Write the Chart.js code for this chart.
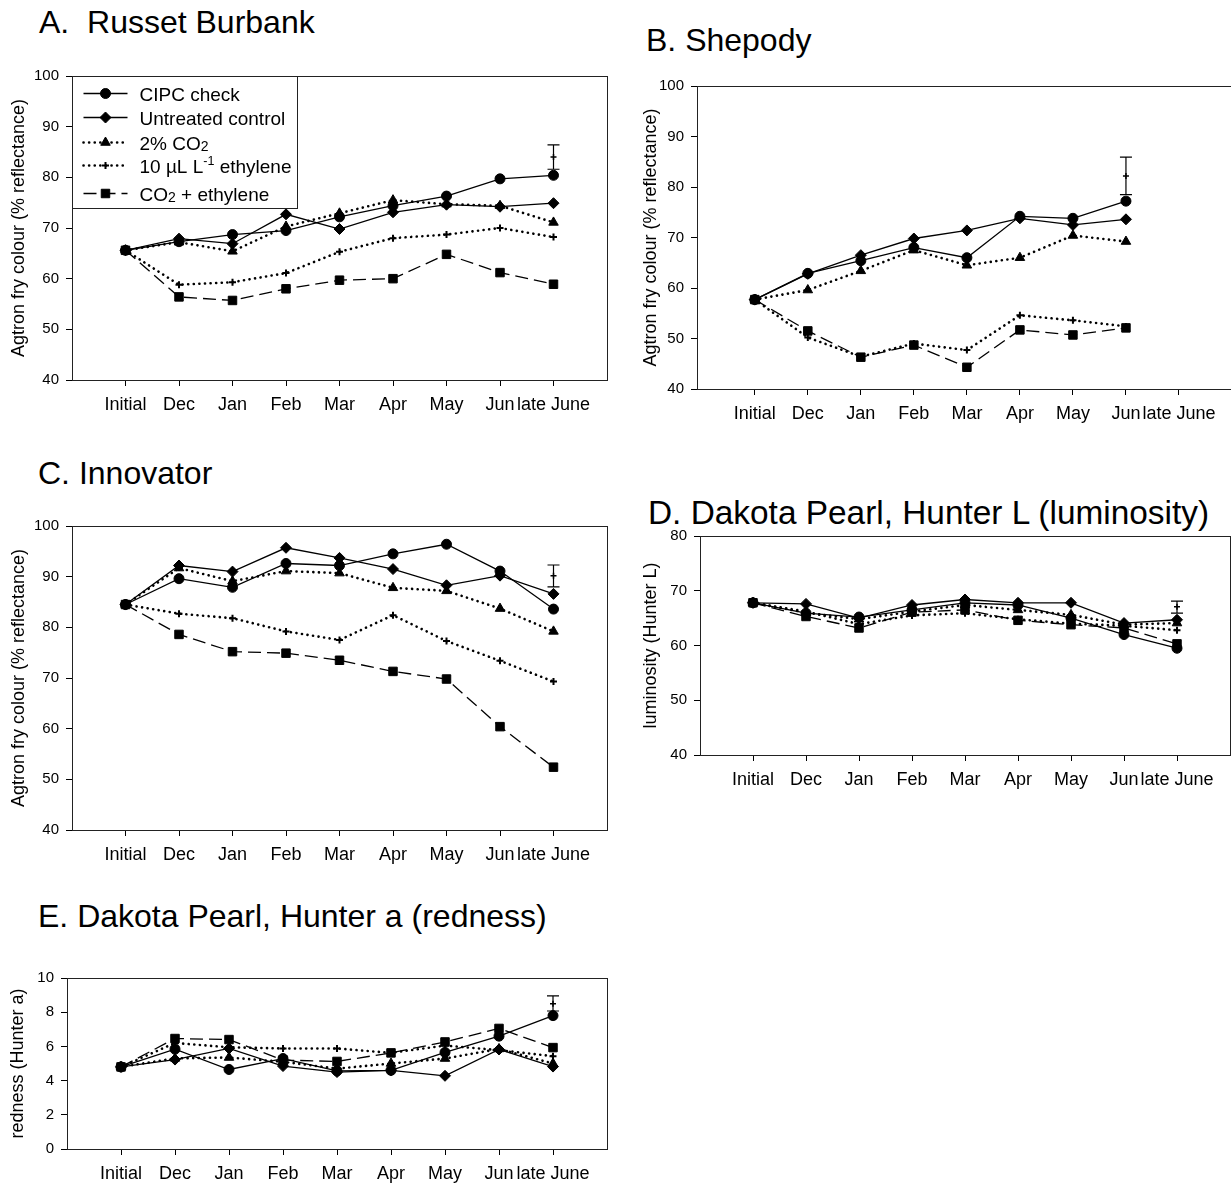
<!DOCTYPE html>
<html>
<head>
<meta charset="utf-8">
<script src="https://cdn.jsdelivr.net/npm/chart.js@4.4.1/dist/chart.umd.min.js"></script>
<style>
  html, body { margin: 0; padding: 0; background: #fff; overflow: hidden; }
  body { width: 1231px; height: 1187px; position: relative; font-family: "Liberation Sans", Arial, sans-serif; }
  .panel-title { position: absolute; font-size: 32px; line-height: 32px; color: #000; white-space: nowrap; }
  canvas { position: absolute; }
</style>
</head>
<body>
<div class="panel-title" style="left:39px; top:6px">A.&nbsp; Russet Burbank</div>
<div class="panel-title" style="left:646px; top:24px">B. Shepody</div>
<div class="panel-title" style="left:38px; top:457px">C. Innovator</div>
<div class="panel-title" style="left:648px; top:497px; font-size:33.4px">D. Dakota Pearl, Hunter L (luminosity)</div>
<div class="panel-title" style="left:38px; top:900px">E. Dakota Pearl, Hunter a (redness)</div>

<canvas id="chartA" width="620" height="370" style="left:0; top:60px"></canvas>
<canvas id="chartB" width="620" height="370" style="left:630px; top:70px"></canvas>
<canvas id="chartC" width="620" height="370" style="left:0; top:510px"></canvas>
<canvas id="chartD" width="620" height="290" style="left:630px; top:520px"></canvas>
<canvas id="chartE" width="620" height="227" style="left:0; top:960px"></canvas>

<script>
const months = ["Initial", "Dec", "Jan", "Feb", "Mar", "Apr", "May", "Jun", "late June"];
const treatments = ["CIPC check", "Untreated control", "2% CO2", "10 µL L-1 ethylene", "CO2 + ethylene"];

// A. Russet Burbank
const aCipc      = [65.6, 67.3, 68.7, 69.5, 72.2, 74.4, 76.3, 79.7, 80.4];
const aUntreated = [65.6, 67.9, 66.9, 72.7, 69.8, 73.1, 74.6, 74.2, 74.9];
const aCo2       = [65.6, 67.2, 65.4, 70.3, 72.9, 75.5, 74.7, 74.4, 71.1];
const aEthylene  = [65.6, 58.8, 59.3, 61.1, 65.3, 68.0, 68.7, 70.0, 68.2];
const aCo2Eth    = [65.6, 56.4, 55.7, 58.0, 59.7, 60.0, 64.8, 61.2, 58.9];
const aError = { month: "late June", mid: 84.0, low: 81.6, high: 86.4 };

// B. Shepody (no late June sample)
const bCipc      = [57.7, 62.9, 65.4, 68.0, 66.0, 74.2, 73.8, 77.2, null];
const bUntreated = [57.7, 62.8, 66.5, 69.8, 71.4, 73.8, 72.5, 73.6, null];
const bCo2       = [57.7, 59.6, 63.4, 67.5, 64.5, 66.0, 70.4, 69.2, null];
const bEthylene  = [57.7, 50.2, 46.4, 49.0, 47.7, 54.6, 53.6, 52.4, null];
const bCo2Eth    = [57.7, 51.5, 46.3, 48.7, 44.3, 51.7, 50.7, 52.1, null];
const bError = { month: "Jun", mid: 82.2, low: 78.5, high: 85.9 };

// C. Innovator
const cCipc      = [84.5, 89.6, 87.9, 92.6, 92.2, 94.5, 96.4, 91.1, 83.6];
const cUntreated = [84.5, 92.2, 91.0, 95.7, 93.7, 91.5, 88.3, 90.2, 86.6];
const cCo2       = [84.5, 91.7, 89.1, 91.1, 90.7, 87.8, 87.2, 83.7, 79.2];
const cEthylene  = [84.5, 82.7, 81.8, 79.2, 77.5, 82.4, 77.3, 73.4, 69.3];
const cCo2Eth    = [84.5, 78.6, 75.2, 74.9, 73.5, 71.3, 69.8, 60.4, 52.4];
const cError = { month: "late June", mid: 90.2, low: 88.0, high: 92.3 };

// D. Dakota Pearl, Hunter L
const dCipc      = [67.8, 65.9, 65.2, 66.5, 67.8, 67.4, 65.0, 62.0, 59.5];
const dUntreated = [67.8, 67.6, 65.0, 67.4, 68.4, 67.8, 67.8, 64.1, 64.7];
const dCo2       = [67.8, 66.0, 64.8, 66.2, 67.4, 66.5, 65.6, 63.8, 64.1];
const dEthylene  = [67.8, 66.2, 63.9, 65.5, 65.9, 64.8, 64.0, 63.6, 62.8];
const dCo2Eth    = [67.8, 65.3, 63.2, 66.1, 66.5, 64.6, 63.8, 63.2, 60.3];
const dError = { month: "late June", mid: 67.1, low: 65.9, high: 68.1 };

// E. Dakota Pearl, Hunter a
const eCipc      = [4.8, 5.84, 4.65, 5.29, 4.57, 4.6, 5.65, 6.6, 7.8];
const eUntreated = [4.8, 5.23, 5.88, 4.85, 4.5, 4.6, 4.28, 5.82, 4.82];
const eCo2       = [4.8, 5.3, 5.35, 5.1, 4.7, 5.0, 5.29, 5.85, 5.0];
const eEthylene  = [4.8, 6.2, 5.95, 5.88, 5.88, 5.62, 6.05, 5.78, 5.43];
const eCo2Eth    = [4.8, 6.46, 6.4, 5.2, 5.12, 5.62, 6.26, 7.05, 5.93];
const eError = { month: "late June", mid: 8.5, low: 8.07, high: 8.95 };

const family = '"Liberation Sans", Arial, sans-serif';
Chart.defaults.font.family = family;
Chart.defaults.color = "#000";

// marker + line look for each treatment
const looks = [
  { pointStyle: "circle",   radius: 5,   dash: [],          lineWidth: 1.3 },
  { pointStyle: "rectRot",  radius: 5.5, dash: [],          lineWidth: 1.3 },
  { pointStyle: "triangle", radius: 5.5, dash: [0.1, 5.5],  lineWidth: 2.6 },
  { pointStyle: "cross",    radius: 3.5, dash: [0.1, 5.5],  lineWidth: 2.6 },
  { pointStyle: "rect",     radius: 6,   dash: [13, 6],     lineWidth: 1.3 },
];

const legendLabels = [
  [["CIPC check"]],
  [["Untreated control"]],
  [["2% CO"], ["2", "sub"]],
  [["10 µL L"], ["-1", "sup"], [" ethylene"]],
  [["CO"], ["2", "sub"], [" + ethylene"]],
];
const legendRows = [17, 41, 66, 89, 117];

const drawMarker = (ctx, look, x, y) => {
  const r = look.radius;
  ctx.beginPath();
  if (look.pointStyle === "circle") {
    ctx.arc(x, y, r, 0, Math.PI * 2);
  } else if (look.pointStyle === "rectRot") {
    ctx.moveTo(x - r, y); ctx.lineTo(x, y - r); ctx.lineTo(x + r, y); ctx.lineTo(x, y + r);
    ctx.closePath();
  } else if (look.pointStyle === "triangle") {
    let a = 0;
    ctx.moveTo(x + Math.sin(a) * r, y - Math.cos(a) * r);
    a += Math.PI * 2 / 3;
    ctx.lineTo(x + Math.sin(a) * r, y - Math.cos(a) * r);
    a += Math.PI * 2 / 3;
    ctx.lineTo(x + Math.sin(a) * r, y - Math.cos(a) * r);
    ctx.closePath();
  } else if (look.pointStyle === "rect") {
    const s = Math.SQRT1_2 * r;
    ctx.rect(x - s, y - s, 2 * s, 2 * s);
  } else if (look.pointStyle === "cross") {
    ctx.moveTo(x, y - r); ctx.lineTo(x, y + r);
    ctx.moveTo(x - r, y); ctx.lineTo(x + r, y);
    ctx.lineWidth = 2;
    ctx.stroke();
    return;
  }
  ctx.fill();
  ctx.lineWidth = 1;
  ctx.stroke();
};

const drawRich = (ctx, parts, x, y) => {
  parts.forEach(([text, kind]) => {
    let size = 19, dy = 0;
    if (kind === "sub") { size = 14; dy = 1; }
    if (kind === "sup") { size = 12.5; dy = -7.5; }
    ctx.font = size + "px " + family;
    ctx.fillText(text, x, y + dy);
    x += ctx.measureText(text).width;
  });
};

const frame = {
  id: "frame",
  beforeDatasetsDraw(chart) {
    const { ctx, chartArea: a } = chart;
    ctx.save();
    ctx.strokeStyle = "#222";
    ctx.lineWidth = 1;
    ctx.strokeRect(Math.round(a.left) + 0.5, Math.round(a.top) + 0.5, Math.round(a.width), Math.round(a.height));
    ctx.restore();
  },
};

const errorBar = {
  id: "errorBar",
  afterDatasetsDraw(chart, args, opts) {
    const { ctx, scales: { x, y } } = chart;
    const px = x.getPixelForValue(months.indexOf(opts.month));
    const top = y.getPixelForValue(opts.high);
    const bottom = y.getPixelForValue(opts.low);
    ctx.save();
    ctx.strokeStyle = "#000";
    ctx.lineWidth = 1.2;
    ctx.beginPath();
    ctx.moveTo(px, top); ctx.lineTo(px, bottom);
    ctx.moveTo(px - 6, top); ctx.lineTo(px + 6, top);
    ctx.moveTo(px - 6, bottom); ctx.lineTo(px + 6, bottom);
    ctx.stroke();
    ctx.restore();
  },
};

const boxLegend = {
  id: "boxLegend",
  afterDatasetsDraw(chart, args, opts) {
    if (!opts.show) return;
    const { ctx, chartArea: a } = chart;
    const x0 = Math.round(a.left) + 0.5;
    const y0 = Math.round(a.top) + 0.5;
    ctx.save();
    ctx.fillStyle = "#fff";
    ctx.fillRect(x0, y0, 225, 132);
    ctx.strokeStyle = "#222";
    ctx.lineWidth = 1;
    ctx.strokeRect(x0, y0, 225, 132);
    ctx.fillStyle = "#000";
    ctx.strokeStyle = "#000";
    legendRows.forEach((dy, k) => {
      const look = looks[k];
      const y = y0 + dy;
      ctx.setLineDash(look.dash);
      ctx.lineWidth = look.lineWidth;
      ctx.lineCap = look.dash.length && look.dash[0] < 1 ? "round" : "butt";
      ctx.beginPath();
      ctx.moveTo(x0 + 11, y);
      ctx.lineTo(x0 + 55, y);
      ctx.stroke();
      ctx.setLineDash([]);
      ctx.lineCap = "butt";
      drawMarker(ctx, look, x0 + 33, y);
      drawRich(ctx, legendLabels[k], x0 + 67, y + 7);
    });
    ctx.restore();
  },
};

const makeDatasets = (series, err) => {
  const sets = series.map((values, k) => ({
    label: treatments[k],
    data: values.map((v, i) => ({ x: i, y: v })),
    borderColor: "#000",
    backgroundColor: "#000",
    borderWidth: looks[k].lineWidth,
    borderDash: looks[k].dash,
    borderCapStyle: looks[k].dash.length && looks[k].dash[0] < 1 ? "round" : "butt",
    pointStyle: looks[k].pointStyle,
    pointRadius: looks[k].radius,
    pointBorderWidth: looks[k].pointStyle === "cross" ? 2 : 1,
    pointBackgroundColor: "#000",
    pointBorderColor: "#000",
    tension: 0,
  }));
  sets.push({
    label: "LSD",
    data: [{ x: months.indexOf(err.month), y: err.mid }],
    showLine: false,
    pointStyle: "cross",
    pointRadius: 3,
    pointBorderWidth: 1.5,
    borderColor: "#000",
    backgroundColor: "#000",
  });
  return sets;
};

// g = layout of one panel in canvas pixels
const makeChart = (id, g, series, err, yRange, yTitle) => new Chart(document.getElementById(id), {
  type: "line",
  data: { datasets: makeDatasets(series, err) },
  options: {
    responsive: false,
    animation: false,
    events: [],
    layout: { padding: { top: g.padTop, right: g.padRight, left: 0, bottom: 0 } },
    plugins: {
      legend: { display: false },
      tooltip: { enabled: false },
      errorBar: err,
      boxLegend: { show: !!g.legend },
    },
    scales: {
      x: {
        type: "linear",
        min: g.xMin,
        max: 9,
        afterBuildTicks: (ax) => { ax.ticks = months.map((m, i) => ({ value: i })); },
        afterFit: (ax) => { ax.height = g.xH; },
        border: { display: false },
        grid: { drawOnChartArea: false, tickLength: 6, color: "#000", lineWidth: 1 },
        ticks: {
          autoSkip: false,
          maxRotation: 0,
          padding: 8,
          color: "#000",
          font: { size: 18 },
          callback: (v) => months[v] ?? "",
        },
      },
      y: {
        min: yRange[0],
        max: yRange[1],
        afterFit: (ax) => { ax.width = g.yW; },
        border: { display: false },
        grid: { drawOnChartArea: false, tickLength: 6, color: "#000", lineWidth: 1 },
        ticks: { stepSize: yRange[2], padding: 7, color: "#000", font: { size: 15 } },
        title: { display: true, text: yTitle, color: "#000", font: { size: 18 }, padding: { top: g.titlePad, bottom: 0 } },
      },
    },
  },
  plugins: [frame, errorBar, boxLegend],
});

const agtron = "Agtron fry colour (% reflectance)";

makeChart("chartA", { yW: 72, padTop: 12, padRight: 13, xH: 50, xMin: -1, titlePad: 8, legend: true },
  [aCipc, aUntreated, aCo2, aEthylene, aCo2Eth], aError, [40, 100, 10], agtron);

makeChart("chartB", { yW: 67, padTop: 12, padRight: 18, xH: 51, xMin: -1.09, titlePad: 10 },
  [bCipc, bUntreated, bCo2, bEthylene, bCo2Eth], bError, [40, 100, 10], agtron);

makeChart("chartC", { yW: 72, padTop: 12, padRight: 13, xH: 50, xMin: -1, titlePad: 8 },
  [cCipc, cUntreated, cCo2, cEthylene, cCo2Eth], cError, [40, 100, 10], agtron);

makeChart("chartD", { yW: 70, padTop: 11, padRight: 20, xH: 55, xMin: -1, titlePad: 10 },
  [dCipc, dUntreated, dCo2, dEthylene, dCo2Eth], dError, [40, 80, 10], "luminosity (Hunter L)");

makeChart("chartE", { yW: 67, padTop: 18, padRight: 13, xH: 38, xMin: -1, titlePad: 7 },
  [eCipc, eUntreated, eCo2, eEthylene, eCo2Eth], eError, [0, 10, 2], "redness (Hunter a)");
</script>
</body>
</html>
